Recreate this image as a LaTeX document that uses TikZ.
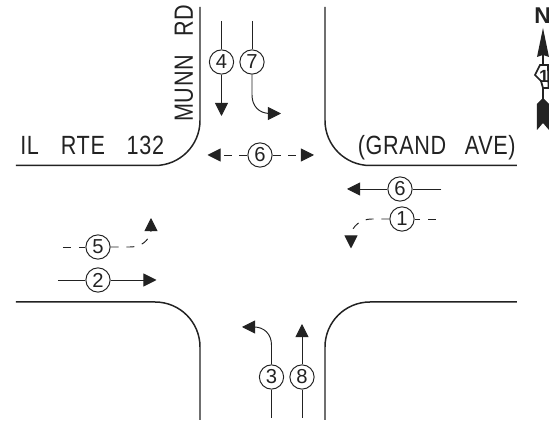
\documentclass[tikz,border=0pt]{standalone}
\usepackage{graphicx}
\usepackage{fontspec}
\setmainfont{Liberation Sans}
\newfontfamily\cadfont[LetterSpace=3,WordSpace=2.8]{Liberation Sans}
\newcommand{\cadtext}[1]{\scalebox{0.82}[1]{#1}}
\usetikzlibrary{positioning, arrows.meta, calc}
\definecolor{ink}{HTML}{222222}
\tikzset{
  curb/.style={ink, line width=0.85pt},
  flow/.style={ink, line width=0.55pt, -{Triangle[length=7.5pt,width=7.5pt]}},
  stub/.style={ink, line width=0.55pt},
  gap/.style={dash pattern=on 4.5pt off 4.5pt},
  phase/.style={circle, draw=ink, line width=0.55pt, inner sep=0pt, minimum size=13.8pt,
    font=\fontsize{11.5}{12}\selectfont, text=ink},
  roadname/.style={ink, inner sep=0pt, font=\cadfont\fontsize{15}{16}\selectfont}
}
\begin{document}
\begin{tikzpicture}[x=0.02cm, y=-0.02cm]
    \useasboundingbox (0,0) rectangle (549,425);
    % Bordsteine
    \draw[curb] (16,165.5) -- (155,165.5) arc[start angle=90, end angle=0, radius=45] -- (200,7);
    \draw[curb] (517,165.5) -- (370,165.5) arc[start angle=90, end angle=180, radius=45] -- (325,7);
    \draw[curb] (16,302) -- (155,302) arc[start angle=-90, end angle=0, radius=45] -- (200,420);
    \draw[curb] (517,302) -- (370,302) arc[start angle=-90, end angle=-180, radius=45] -- (325,420);
    % Strassennamen
    \node[roadname, anchor=base west] (rte) at (20,155) {\cadtext{IL\hspace{2.2pt} RTE\hspace{2.2pt} 132}};
    \node[roadname, anchor=base east] (grand) at (516,155) {\cadtext{(GRAND AVE)}};
    \node[roadname, anchor=base west, rotate=90] (munn) at (193,122) {\cadtext{MUNN RD}};
    % Phasen
    \foreach \name/\px/\py/\num in {pa/221.5/62/4, pb/252/62/7, pc/260/155/6, pd/400/189/6,
      pe/402/219/1, pf/98/247/5, pg/98/280/2, ph/271.5/377/3, pi/302/377/8}{
      \node[phase] (\name) at (\px,\py) {\num};
    }
    % Suedgerichtet
    \coordinate (pa top) at (221.5,21);
    \coordinate (pa tip) at (221.5,116);
    \coordinate (pb top) at (252,21);
    \coordinate (pb tip) at (281,113.5);
    \draw[stub] (pa top) -- (pa);
    \draw[flow] (pa) -- (pa tip);
    \draw[stub] (pb top) -- (pb);
    \draw[flow] (pb) -- (252,95) .. controls (252,106) and (259,113.5) .. (270,113.5) -- (pb tip);
    % Fussgaenger
    \coordinate (pc left) at (207.5,155);
    \coordinate (pc right) at (314,155);
    \draw[flow, gap] (pc) -- (pc left);
    \draw[flow, gap] (pc) -- (pc right);
    % Westgerichtet
    \coordinate (pd end) at (441.5,189);
    \coordinate (pd tip) at (347,189);
    \draw[stub] (pd end) -- (pd);
    \draw[flow] (pd) -- (pd tip);
    \coordinate (pe end) at (436,219);
    \coordinate (pe tip) at (351,248.5);
    \draw[stub, gap] (pe end) -- (pe);
    \draw[flow, gap] (pe) -- (372,219) .. controls (361,219) and (352,226) .. (351,235) -- (pe tip);
    % Ostgerichtet
    \coordinate (pf end) at (63,247);
    \coordinate (pf tip) at (151,218);
    \draw[stub, gap] (pf end) -- (pf);
    \draw[flow, gap] (pf) -- (130,247) .. controls (141,247) and (149,241) .. (151,231) -- (pf tip);
    \coordinate (pg end) at (58,280);
    \coordinate (pg tip) at (156.5,280);
    \draw[stub] (pg end) -- (pg);
    \draw[flow] (pg) -- (pg tip);
    % Nordgerichtet
    \coordinate (ph end) at (271.5,418);
    \coordinate (ph tip) at (242,327);
    \draw[stub] (ph end) -- (ph);
    \draw[flow] (ph) -- (271.5,345) .. controls (271.5,334) and (264,327) .. (254,327) -- (ph tip);
    \coordinate (pi end) at (302,418);
    \coordinate (pi tip) at (302,324);
    \draw[stub] (pi end) -- (pi);
    \draw[flow] (pi) -- (pi tip);
    % Nordpfeil
    \node[ink, font=\bfseries\fontsize{13}{13}\selectfont, inner sep=0pt] (north) at (542.5,16) {N};
    \fill[ink] (543,28) -- (549,57) -- (543,55) -- (537,57) -- cycle;
    \draw[ink, line width=0.7pt] (543,54) -- (543,65);
    \draw[ink, line width=1pt, fill=white] (540,65) -- (548,65) -- (548.5,88) -- (543,88)
      -- (541,81) -- (535,75) -- cycle;
    \node[ink, font=\bfseries\fontsize{10}{10}\selectfont, inner sep=0pt] (shield) at (544,76) {1};
    \draw[ink, line width=0.7pt] (543,88) -- (543,100);
    \fill[ink] (543,98) -- (549,104) -- (549,130) -- (543,123) -- (537,130) -- (537,104) -- cycle;
\end{tikzpicture}
\end{document}
